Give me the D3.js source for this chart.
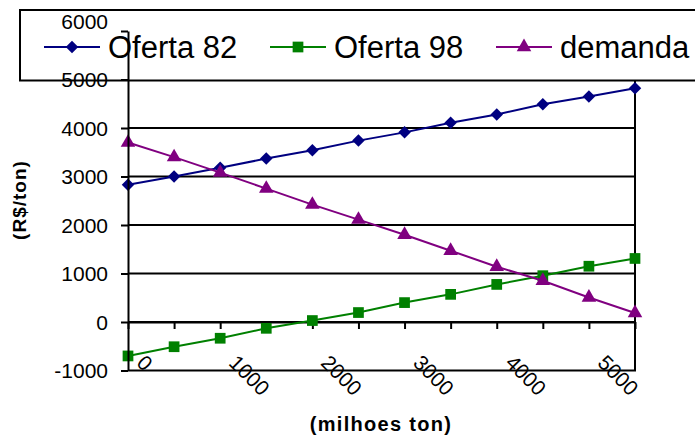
<!DOCTYPE html>
<html>
<head>
<meta charset="utf-8">
<script src="https://cdn.jsdelivr.net/npm/d3@7"></script>
<style>
  html, body { margin: 0; padding: 0; background: #fff; }
  svg { display: block; font-family: "Liberation Sans", Arial, sans-serif; }
</style>
</head>
<body>
<svg id="chart" width="695" height="435"></svg>
<script>
// ---- data ----
const categories = [0, 500, 1000, 1500, 2000, 2500, 3000, 3500, 4000, 4500, 5000, 5500];
const oferta82 = [2830, 3000, 3180, 3370, 3540, 3740, 3910, 4110, 4280, 4490, 4650, 4820];
const oferta98 = [-700, -510, -335, -130, 30, 195, 400, 570, 775, 955, 1150, 1310];
const demanda  = [3700, 3400, 3080, 2750, 2420, 2110, 1800, 1470, 1140, 850, 505, 185];
const yTicks = [-1000, 0, 1000, 2000, 3000, 4000, 5000, 6000];
const seriesNames = ["Oferta 82", "Oferta 98", "demanda"];
const xTitle = "(milhoes ton)";
const yTitle = "(R$/ton)";

const colors = ["#000080", "#008000", "#800080"];
const symbols = [d3.symbolSquare, d3.symbolSquare, d3.symbolTriangle];
const symSizes = [78, 115, 92];
const symRot = [45, 0, 0];

const svg = d3.select("#chart");
const pLeft = 128, pRight = 635, pTop = 31, pBottom = 370.5;

const x = d3.scalePoint().domain(categories).range([pLeft, pRight]);
const y = d3.scaleLinear().domain([-1000, 6000]).range([pBottom, pTop]);

// gridlines
svg.append("g").selectAll("line")
  .data(yTicks.filter(v => v > -1000 && v < 6000))
  .join("line")
  .attr("x1", pLeft).attr("x2", pRight)
  .attr("y1", d => y(d)).attr("y2", d => y(d))
  .attr("stroke", "#000").attr("stroke-width", 2);

// plot border (right + bottom)
svg.append("path")
  .attr("d", `M${pRight},${y(5000)}V${pBottom}H${pLeft}`)
  .attr("fill", "none").attr("stroke", "#000").attr("stroke-width", 2);

// x axis (crossing at 0)
const xAxis = svg.append("g")
  .attr("transform", `translate(0,${y(0)})`)
  .call(d3.axisBottom(x).tickSize(7).tickSizeOuter(0)
        .tickFormat((d, i) => i % 2 === 0 ? String(d) : ""));
xAxis.select(".domain").attr("stroke", "#000").attr("stroke-width", 2);
xAxis.selectAll(".tick line").attr("stroke", "#000").attr("stroke-width", 2);
xAxis.selectAll(".tick text")
  .attr("font-size", 21).attr("fill", "#000")
  .attr("text-anchor", "start")
  .attr("x", 0).attr("y", 0).attr("dy", 0)
  .attr("transform", "translate(7,42) rotate(45)");

// series
const allSeries = [oferta82, oferta98, demanda];
allSeries.forEach((vals, s) => {
  const line = d3.line().x((d, i) => x(categories[i])).y(d => y(d));
  svg.append("path").datum(vals)
    .attr("d", line).attr("fill", "none")
    .attr("stroke", colors[s]).attr("stroke-width", 2);
  svg.append("g").selectAll("path")
    .data(vals).join("path")
    .attr("d", d3.symbol().type(symbols[s]).size(symSizes[s]))
    .attr("transform", (d, i) => `translate(${x(categories[i])},${y(d)}) rotate(${symRot[s]})`)
    .attr("fill", colors[s]);
});

// legend box
svg.append("rect")
  .attr("x", 20).attr("y", 10).attr("width", 700).attr("height", 70.5)
  .attr("fill", "#fff").attr("stroke", "#000").attr("stroke-width", 2);

const legendX = [44, 270, 496];
const legendY = 47;
seriesNames.forEach((name, s) => {
  const g = svg.append("g").attr("transform", `translate(${legendX[s]},${legendY})`);
  g.append("line").attr("x1", 0).attr("x2", 56).attr("y1", 0).attr("y2", 0)
    .attr("stroke", colors[s]).attr("stroke-width", 2);
  g.append("path")
    .attr("d", d3.symbol().type(symbols[s]).size(symSizes[s]))
    .attr("transform", `translate(28,0) rotate(${symRot[s]})`)
    .attr("fill", colors[s]);
  g.append("text").attr("x", 64).attr("y", 11)
    .attr("font-size", 31).attr("fill", "#000").text(name);
});

// y axis
const yAxis = svg.append("g")
  .attr("transform", `translate(${pLeft},0)`)
  .call(d3.axisLeft(y).tickValues(yTicks).tickSize(7).tickSizeOuter(0)
        .tickFormat(d => String(d)));
yAxis.select(".domain").attr("stroke", "#000").attr("stroke-width", 2);
yAxis.selectAll(".tick line").attr("stroke", "#000").attr("stroke-width", 2);
yAxis.selectAll(".tick text")
  .attr("font-size", 21).attr("fill", "#000").attr("x", -20)
  .attr("dy", (d) => d === 6000 ? "-0.1em" : "0.35em");

// titles
svg.append("text")
  .attr("transform", "translate(26,200) rotate(-90)")
  .attr("text-anchor", "middle").attr("font-weight", "bold")
  .attr("font-size", 19).attr("letter-spacing", 1).text(yTitle);

svg.append("text")
  .attr("x", 381).attr("y", 431)
  .attr("text-anchor", "middle").attr("font-weight", "bold")
  .attr("font-size", 20).attr("letter-spacing", 1.3).text(xTitle);
</script>
</body>
</html>
